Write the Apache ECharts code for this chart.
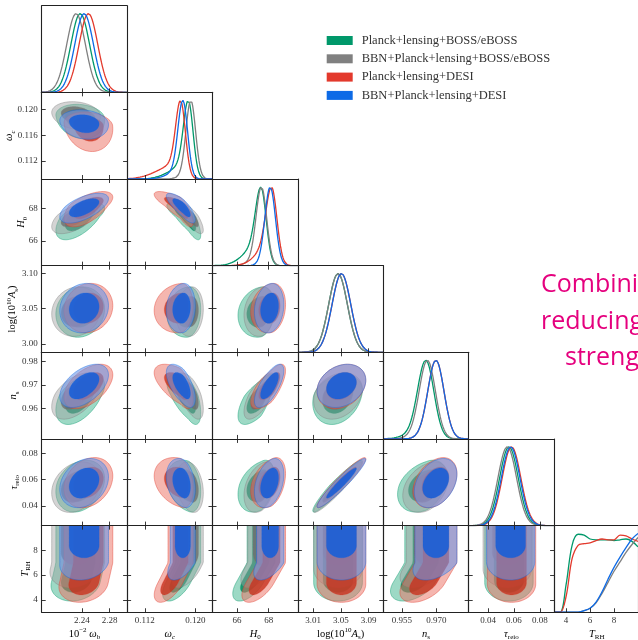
<!DOCTYPE html>
<html><head><meta charset="utf-8">
<script src="https://cdn.jsdelivr.net/npm/echarts@6/dist/echarts.min.js"></script>
<style>html,body{margin:0;padding:0;background:#fff;} #c{width:638px;height:640px;}</style>
</head><body><div id="c"></div>
<script>
// ---------------- DATA ----------------
const datasetNames = ['Planck+lensing+BOSS/eBOSS','BBN+Planck+lensing+BOSS/eBOSS','Planck+lensing+DESI','BBN+Planck+lensing+DESI'];
// parameter order: 10^-2 ωb, ωc, H0, log(10^10 As), ns, τreio, T_RH
const axisMin = [2.182, 0.1092, 64.47, 2.988, 0.947, 0.025, 3.0];
const axisMax = [2.305, 0.1227, 69.83, 3.111, 0.984, 0.091, 10.0];
const xTickValues = [[2.24,2.28],[0.112,0.120],[66,68],[3.01,3.05,3.09],[0.955,0.970],[0.04,0.06,0.08],[4,6,8]];
const xTickLabels = [['2.24','2.28'],['0.112','0.120'],['66','68'],['3.01','3.05','3.09'],['0.955','0.970'],['0.04','0.06','0.08'],['4','6','8']];
const yTickValues = [[],[0.112,0.116,0.120],[66,68],[3.00,3.05,3.10],[0.96,0.97,0.98],[0.04,0.06,0.08],[4,6,8]];
const yTickLabels = [[],['0.112','0.116','0.120'],['66','68'],['3.00','3.05','3.10'],['0.96','0.97','0.98'],['0.04','0.06','0.08'],['4','6','8']];

// posterior means (first six parameters)
const meanPlanckBOSS    = [2.2375, 0.11886, 67.50, 3.0458, 0.9654, 0.0561];
const meanBBNPlanckBOSS = [2.2315, 0.11927, 67.54, 3.0458, 0.9661, 0.0548];
const meanPlanckDESI    = [2.2493, 0.11764, 68.17, 3.0507, 0.9698, 0.0581];
const meanBBNPlanckDESI = [2.2431, 0.11800, 68.09, 3.0507, 0.9698, 0.0574];
// core widths
const sigPlanckBOSS    = [0.0135, 0.00076, 0.33, 0.0135, 0.0035, 0.0072];
const sigBBNPlanckBOSS = [0.0135, 0.00076, 0.33, 0.0135, 0.0035, 0.0072];
const sigPlanckDESI    = [0.0135, 0.00076, 0.34, 0.0135, 0.0035, 0.0072];
const sigBBNPlanckDESI = [0.0135, 0.00076, 0.33, 0.0135, 0.0035, 0.0072];
// widths on the low side of the 2D contours (skewed posteriors)
const sigLoPlanckBOSS    = [0.0135, 0.0013, 0.55, 0.0140, 0.0047, 0.0080];
const sigLoBBNPlanckBOSS = [0.0135, 0.0009, 0.42, 0.0135, 0.0041, 0.0076];
const sigLoPlanckDESI    = [0.0135, 0.0016, 0.50, 0.0135, 0.0038, 0.0075];
const sigLoBBNPlanckDESI = [0.0135, 0.0010, 0.38, 0.0135, 0.0036, 0.0072];
// low-side tails of the 1D marginals: weight and width
const tailWPlanckBOSS    = [0, 0.20, 0.30, 0, 0.10, 0];
const tailWBBNPlanckBOSS = [0, 0.05, 0.12, 0, 0.06, 0];
const tailWPlanckDESI    = [0, 0.21, 0.30, 0, 0.03, 0];
const tailWBBNPlanckDESI = [0, 0.12, 0.05, 0, 0.03, 0];
const tailSPlanckBOSS    = [1, 0.0025, 0.90, 1, 0.0070, 1];
const tailSBBNPlanckBOSS = [1, 0.0015, 0.60, 1, 0.0060, 1];
const tailSPlanckDESI    = [1, 0.0031, 0.80, 1, 0.0060, 1];
const tailSBBNPlanckDESI = [1, 0.0020, 0.50, 1, 0.0060, 1];
// correlations [rowParam, colParam, rho]
const corrPairs = [[1,0,-0.15],[2,0,0.6],[2,1,-0.8],[3,0,0.1],[3,1,0.1],[3,2,0.15],
  [4,0,0.5],[4,1,-0.6],[4,2,0.7],[4,3,0.25],[5,0,0.25],[5,1,-0.25],[5,2,0.35],[5,3,0.95],[5,4,0.35]];
// T_RH marginal curves
const trhGrid          = [3.0,3.5,4.0,4.5,5.0,5.5,6.0,6.5,7.0,7.5,8.0,8.5,9.0,9.5,10.0];
const trhPlanckBOSS    = [0,0.0,0.35,0.85,0.99,0.98,0.93,0.92,0.92,0.92,0.91,0.92,0.93,0.90,0.83];
const trhBBNPlanckBOSS = [0,0,0,0,0.0,0.02,0.05,0.12,0.24,0.38,0.52,0.64,0.76,0.86,0.95];
const trhPlanckDESI    = [0,0.0,0.2,0.68,0.85,0.87,0.88,0.91,0.93,0.92,0.92,0.98,0.97,0.93,0.90];
const trhBBNPlanckDESI = [0,0,0,0,0.0,0.02,0.05,0.13,0.26,0.42,0.57,0.70,0.82,0.93,1.0];
// T_RH lower edges of 95% and 68% regions
const trhLow95 = [3.9, 5.0, 3.8, 5.6];
const trhLow68 = [4.6, 6.8, 4.4, 7.4];
// drift of the T_RH contours toward low values of each parameter (in sigma per unit T_RH)
const trhShear = [-0.3, -1.3, -1.3, 0, -0.9, 0];

// ---------------- STYLE ----------------
const lineColors = ['#00986a', '#808080', '#e3392c', '#0d6ae6'];
const outerFill = ['rgba(60,180,140,0.5)','rgba(160,160,160,0.45)','rgba(235,110,95,0.5)','rgba(110,150,230,0.6)'];
const innerFill = ['rgba(0,140,95,0.85)','rgba(110,110,110,0.8)','rgba(200,50,30,0.8)','rgba(25,95,215,0.9)'];
const R68 = 1.6, R95 = 2.6;
const serif = 'Liberation Serif';

const means = [meanPlanckBOSS, meanBBNPlanckBOSS, meanPlanckDESI, meanBBNPlanckDESI];
const sigs = [sigPlanckBOSS, sigBBNPlanckBOSS, sigPlanckDESI, sigBBNPlanckDESI];
const sigLos = [sigLoPlanckBOSS, sigLoBBNPlanckBOSS, sigLoPlanckDESI, sigLoBBNPlanckDESI];
const tailWs = [tailWPlanckBOSS, tailWBBNPlanckBOSS, tailWPlanckDESI, tailWBBNPlanckDESI];
const tailSs = [tailSPlanckBOSS, tailSBBNPlanckBOSS, tailSPlanckDESI, tailSBBNPlanckDESI];
const trhCurves = [trhPlanckBOSS, trhBBNPlanckBOSS, trhPlanckDESI, trhBBNPlanckDESI];
const corr = {}; corrPairs.forEach(p => corr[p[0]+'_'+p[1]] = p[2]);

function density(d, p, x) {
  const m = means[d][p], s = sigs[d][p], dl = x - m;
  const core = Math.exp(-dl*dl/(2*s*s));
  if (dl >= 0) return core;
  const w = tailWs[d][p], ts = tailSs[d][p];
  return (1-w)*core + w*Math.exp(-dl*dl/(2*ts*ts));
}
function ellipsePts(d, pi, pj, r) {
  const rho = corr[pi+'_'+pj] || 0, q = Math.sqrt(1-rho*rho), pts = [];
  for (let k = 0; k <= 90; k++) {
    const t = k/90*2*Math.PI;
    const u = r*Math.cos(t), v = r*(rho*Math.cos(t) + q*Math.sin(t));
    pts.push([means[d][pj] + u*(u<0 ? sigLos[d][pj] : sigs[d][pj]),
              means[d][pi] + v*(v<0 ? sigLos[d][pi] : sigs[d][pi])]);
  }
  return pts;
}
function trhPts(d, pj, level) {
  const r = level === 0 ? R95 : R68;
  const lo = level === 0 ? trhLow95[d] : trhLow68[d];
  const rnd = level === 0 ? 1.5 : 1.0;
  const mu = means[d][pj], sg = sigs[d][pj], sh = trhShear[pj]*sg;
  const c = T => mu + sh*Math.max(0, 7 - T);
  const top = 11, Tm = lo + rnd, pts = [];
  for (let k = 0; k <= 24; k++) { const T = top - (top-Tm)*k/24; pts.push([c(T) + r*sg, T]); }
  for (let k = 1; k < 40; k++) { const a = Math.PI*k/40; const T = Tm - rnd*Math.sin(a); pts.push([c(T) + r*sg*Math.cos(a), T]); }
  for (let k = 0; k <= 24; k++) { const T = Tm + (top-Tm)*k/24; pts.push([c(T) - r*sg, T]); }
  return pts;
}
function labelFor(v, vals, labs) {
  for (let k = 0; k < vals.length; k++) if (Math.abs(v - vals[k]) < 1e-7) return labs[k];
  return '';
}

// ---------------- LAYOUT ----------------
const PW = 85.4, PH = 86.65;
const colLeft = j => 41.7 + j*PW;
const rowTop = i => 5.7 + i*PH;

const grids = [], xAxes = [], yAxes = [], series = [];
function axis(g, pos, min, max, vals, labs, showLab, showTick) {
  return {
    type: 'value', gridIndex: g, position: pos, min: min, max: max, z: 5,
    axisLine: {show: true, onZero: false, lineStyle: {color: '#222', width: 1.1}},
    axisTick: {show: showTick, inside: true, length: 4, customValues: vals, lineStyle: {color: '#222', width: 0.9}},
    axisLabel: {show: showLab, customValues: vals, formatter: v => labelFor(v, vals, labs),
      fontFamily: serif, fontSize: 9, color: '#333', margin: 4},
    splitLine: {show: false}
  };
}
let g = 0;
for (let i = 0; i < 7; i++) {
  for (let j = 0; j <= i; j++) {
    const diag = i === j;
    grids.push({left: colLeft(j), top: rowTop(i), width: PW, height: PH, show: false});
    xAxes.push(axis(g, 'bottom', axisMin[j], axisMax[j], xTickValues[j], xTickLabels[j], i === 6, true));
    xAxes.push(axis(g, 'top', axisMin[j], axisMax[j], xTickValues[j], xTickLabels[j], false, !diag));
    if (diag) {
      yAxes.push(axis(g, 'left', 0, 1.1, [], [], false, false));
      yAxes.push(axis(g, 'right', 0, 1.1, [], [], false, false));
      for (let d = 0; d < 4; d++) {
        let data;
        if (j === 6) data = trhGrid.map((t, k) => [t, trhCurves[d][k]]);
        else {
          data = [];
          for (let k = 0; k <= 240; k++) { const x = axisMin[j] + (axisMax[j]-axisMin[j])*k/240; data.push([x, density(d, j, x)]); }
        }
        series.push({type: 'line', name: datasetNames[d], xAxisIndex: 2*g, yAxisIndex: 2*g, data: data,
          showSymbol: false, smooth: j === 6 ? 0.35 : false, color: lineColors[d],
          lineStyle: {color: lineColors[d], width: 1.3}, silent: true, animation: false, z: 3});
      }
    } else {
      yAxes.push(axis(g, 'left', axisMin[i], axisMax[i], yTickValues[i], yTickLabels[i], j === 0, true));
      yAxes.push(axis(g, 'right', axisMin[i], axisMax[i], yTickValues[i], yTickLabels[i], false, true));
      for (let d = 0; d < 4; d++) {
        const pi = i, pj = j;
        const shapes = (i === 6) ? [trhPts(d, pj, 0), trhPts(d, pj, 1)] : [ellipsePts(d, pi, pj, R95), ellipsePts(d, pi, pj, R68)];
        series.push({type: 'custom', name: datasetNames[d], xAxisIndex: 2*g, yAxisIndex: 2*g, clip: true,
          color: lineColors[d], silent: true, animation: false, z: 2,
          data: [[0], [1]],
          renderItem: (params, api) => {
            const lvl = api.value(0);
            const pts = shapes[lvl].map(p => api.coord(p));
            return {type: 'polygon', shape: {points: pts},
              style: {fill: lvl === 0 ? outerFill[d] : innerFill[d], stroke: lineColors[d], lineWidth: 0.7, opacity: 1,
                strokeOpacity: lvl === 0 ? 0.6 : 0.3}};
          }});
      }
    }
    g++;
  }
}

// axis titles
const rich = {
  m: {fontFamily: serif, fontStyle: 'italic', fontSize: 10.5, color: '#222', lineHeight: 14},
  r: {fontFamily: serif, fontSize: 10.5, color: '#222', lineHeight: 14},
  sub: {fontFamily: serif, fontSize: 7, color: '#222', verticalAlign: 'bottom', lineHeight: 8},
  subi: {fontFamily: serif, fontStyle: 'italic', fontSize: 7, color: '#222', verticalAlign: 'bottom', lineHeight: 8},
  sup: {fontFamily: serif, fontSize: 7, color: '#222', verticalAlign: 'top', lineHeight: 8}
};
const titles = ['{r|10}{sup|−2}{r| }{m|ω}{sub|b}', '{m|ω}{subi|c}', '{m|H}{sub|0}', '{r|log(10}{sup|10}{m|A}{sub|s}{r|)}',
  '{m|n}{sub|s}', '{m|τ}{sub|reio}', '{m|T}{sub|RH}'];
const yTitleX = [0, 9.5, 21.5, 12.5, 13.5, 14, 25];
const graphics = [];
for (let j = 0; j < 7; j++) {
  graphics.push({type: 'text', x: colLeft(j) + PW/2, y: 634, silent: true,
    style: {text: titles[j], rich: rich, align: 'center', verticalAlign: 'middle'}});
}
for (let i = 1; i < 7; i++) {
  graphics.push({type: 'text', x: yTitleX[i], y: rowTop(i) + PH/2, rotation: Math.PI/2, silent: true,
    style: {text: titles[i], rich: rich, align: 'center', verticalAlign: 'middle'}});
}
const slideLines = [['Combining', 541, 285], ['reducing', 541, 322], ['strength', 565, 358]];
slideLines.forEach(s => graphics.push({type: 'text', x: s[1], y: s[2], silent: true,
  style: {text: s[0], fontFamily: 'Open Sans', fontSize: 25, fill: '#e5007e', align: 'left', verticalAlign: 'middle'}}));

const chart = echarts.init(document.getElementById('c'), null, {renderer: 'canvas', width: 638, height: 640});
chart.setOption({
  animation: false,
  backgroundColor: '#fff',
  grid: grids, xAxis: xAxes, yAxis: yAxes, series: series,
  legend: {orient: 'vertical', left: 326.7, top: 33.5, padding: 0, itemWidth: 26, itemHeight: 9, itemGap: 4.3, icon: 'rect',
    selectedMode: false,
    data: datasetNames.map((n, k) => ({name: n, itemStyle: {color: lineColors[k]}})),
    textStyle: {fontFamily: serif, fontSize: 12.5, color: '#333', lineHeight: 14, padding: [0, 0, 0, 4]}},
  graphic: graphics
});
</script></body></html>
